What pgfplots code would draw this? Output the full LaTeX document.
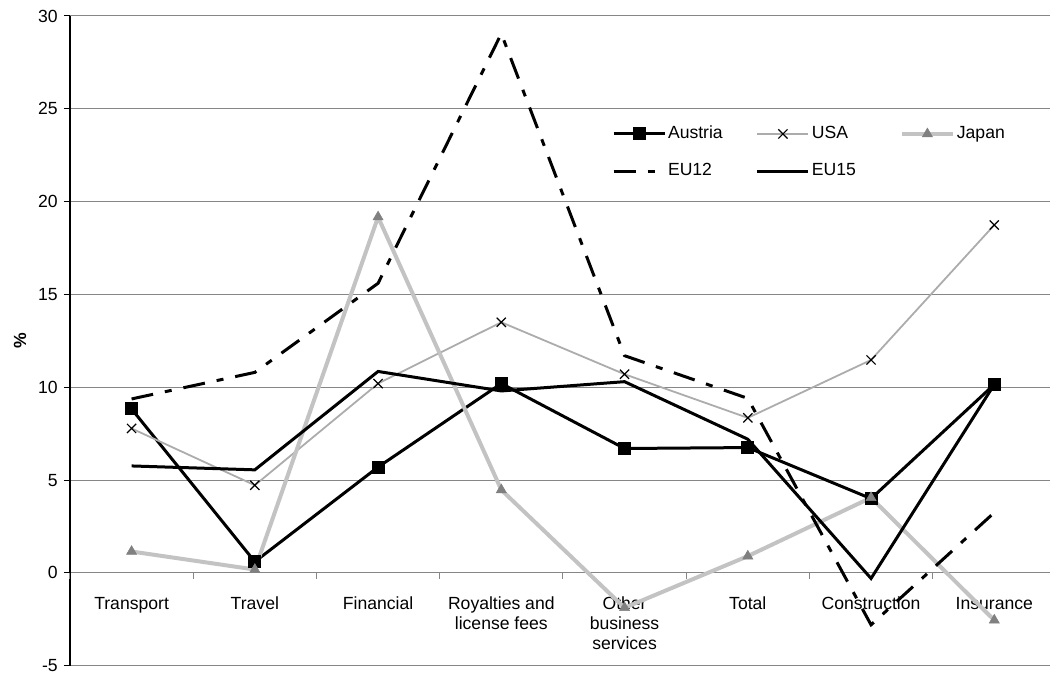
\documentclass[border=0pt]{standalone}
\usepackage{fontspec}
\setmainfont{Liberation Sans}
\usepackage{pgfplots}
\pgfplotsset{compat=1.18}
\definecolor{gridgray}{RGB}{134,134,134}
\definecolor{usagray}{RGB}{172,172,172}
\definecolor{jplight}{RGB}{195,195,195}
\definecolor{jpmark}{RGB}{128,128,128}
\begin{document}
\fontsize{8.8}{10}\selectfont
\begin{tikzpicture}
\begin{axis}[
  scale only axis, width=490pt, height=325pt,
  xmin=-0.5, xmax=7.448, ymin=-5, ymax=30,
  axis x line*=middle, axis y line*=left,
  x axis line style={draw=gridgray, line width=0.5pt, -},
  y axis line style={draw=black, line width=0.8pt, -},
  xtick={0,...,7},
  xticklabels={Transport, Travel, Financial, {Royalties and\\license fees}, {Other\\business\\services}, Total, Construction, Insurance},
  xticklabel style={align=center, yshift=-6pt},
  xtick style={draw=none},
  extra x ticks={-0.5,0.5,1.5,2.5,3.5,4.5,5.5,6.5},
  extra x tick labels={},
  extra x tick style={grid=none, xtick style={draw=gridgray, line width=0.5pt}},
  tick align=outside, major tick length=3pt,
  ytick={-5,0,5,10,15,20,25,30},
  yticklabels={-5,0,5,10,15,20,25,30},
  ytick style={draw=black, line width=0.5pt},
  ymajorgrids, grid style={draw=gridgray, line width=0.5pt},
  ylabel={\bfseries\%},
  ylabel style={at={(axis description cs:-0.051,0.50)}, anchor=center},
  legend columns=3,
  legend style={draw=none, fill=none, inner sep=0pt, row sep=9pt,
    at={(rel axis cs:0.553,0.834)}, anchor=north west,
    nodes={inner sep=1pt},
    /tikz/every even column/.append style={column sep=0pt}},
  legend image code/.code={\draw[mark repeat=2,mark phase=2,#1] plot coordinates {(0pt,0pt) (12.75pt,0pt) (25.5pt,0pt)};},
  clip=true,
]
\addplot[black, line width=1.5pt, mark=square*, mark size=2.5pt, mark options={solid}] coordinates {
 (0,8.83)(1,0.6)(2,5.7)(3,10.2)(4,6.7)(5,6.75)(6,4.0)(7,10.15)};
\addlegendentry{\makebox[43pt][l]{Austria}}
\addplot[usagray, line width=0.9pt, mark=x, mark size=3.25pt, mark options={black, line width=0.6pt, solid}] coordinates {
 (0,7.78)(1,4.72)(2,10.2)(3,13.5)(4,10.7)(5,8.35)(6,11.47)(7,18.74)};
\addlegendentry{\makebox[43pt][l]{USA}}
\addplot[jplight, line width=2pt, mark=triangle*, mark size=2.9pt, mark options={jpmark, fill=jpmark, solid, line width=0.3pt}] coordinates {
 (0,1.15)(1,0.18)(2,19.17)(3,4.47)(4,-1.88)(5,0.9)(6,4.05)(7,-2.55)};
\addlegendentry{\makebox[43pt][l]{Japan}}
\addplot[black, line width=1.5pt, dash pattern=on 11pt off 6pt on 3.5pt off 6pt] coordinates {
 (0,9.37)(1,10.8)(2,15.6)(3,29.05)(4,11.7)(5,9.4)(6,-2.8)(7,3.25)};
\addlegendentry{\makebox[43pt][l]{EU12}}
\addplot[black, line width=1.5pt] coordinates {
 (0,5.76)(1,5.55)(2,10.85)(3,9.8)(4,10.3)(5,7.2)(6,-0.3)(7,10.15)};
\addlegendentry{\makebox[43pt][l]{EU15}}
\end{axis}
\path ([xshift=-35pt,yshift=-5.5pt]current axis.south west) rectangle ([yshift=8pt]current axis.north east);
\end{tikzpicture}
\end{document}
